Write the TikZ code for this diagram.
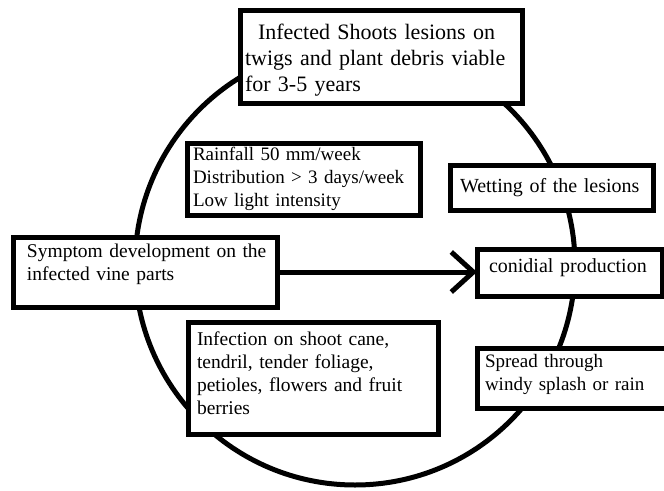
\documentclass[tikz,border=0pt]{standalone}
\usepackage{fontspec}
\setmainfont{Liberation Serif}
\usepackage{tikz}
\usetikzlibrary{arrows.meta}
\usetikzlibrary{positioning}
\tikzstyle{block} = [draw, fill=white, line width=5pt, anchor=north west,
    outer sep=0pt, inner ysep=0pt, align=left,
    font=\fontsize{19.5}{23}\selectfont]
\tikzstyle{ring} = [draw, line width=5pt]

\begin{document}
\begin{tikzpicture}[x=1pt, y=-1pt, >={Straight Barb[length=22pt,width=40pt]}]
    \useasboundingbox (0,0) rectangle (664,490);
    \clip (0,0) rectangle (664,490);

    % The disease cycle runs round one big circle
    \draw [ring] (355,265) circle [radius=220pt];

    % We place the blocks on top of the circle
    \node [block, text width=272pt, inner xsep=5pt, text height=29pt, text depth=64pt,
        font=\fontsize{22}{26}\selectfont] (source) at (240,10)
        {\hspace*{13pt}Infected Shoots lesions on\\twigs and plant debris viable\\for 3-5 years};
    \node [block, text width=221pt, inner xsep=6pt, text height=17pt, text depth=55pt,
        font=\fontsize{19}{23}\selectfont] (weather) at (187,143)
        {Rainfall 50 mm/week\\Distribution > 3 days/week\\Low light intensity};
    \node [block, text width=183pt, inner xsep=10pt, text height=27pt, text depth=18pt,
        font=\fontsize{20}{23}\selectfont] (wetting) at (450,165)
        {Wetting of the lesions};
    \node [block, text width=161pt, inner xsep=12pt, text height=23pt, text depth=24pt,
        font=\fontsize{20}{23}\selectfont] (conidia) at (477,249)
        {conidial production};
    \node [block, text width=254pt, inner xsep=5pt, text height=20pt, text depth=50pt] (symptom) at (13,237)
        {\hspace*{9pt}\mbox{Symptom development on the}\\\hspace*{9pt}infected vine parts};
    \node [block, text width=232pt, inner xsep=9pt, text height=23pt, text depth=89pt] (infection) at (188,322)
        {Infection on shoot cane,\\tendril, tender foliage,\\petioles, flowers and fruit\\berries};
    \node [block, text width=184pt, inner xsep=8pt, text height=19pt, text depth=41pt,
        font=\fontsize{19}{23}\selectfont] (spread) at (477,348)
        {Spread through\\windy splash or rain};

    % Then the one arrow across the circle
    \draw [->, line width=5pt] (symptom) -- (symptom -| conidia.west);
\end{tikzpicture}
\end{document}
